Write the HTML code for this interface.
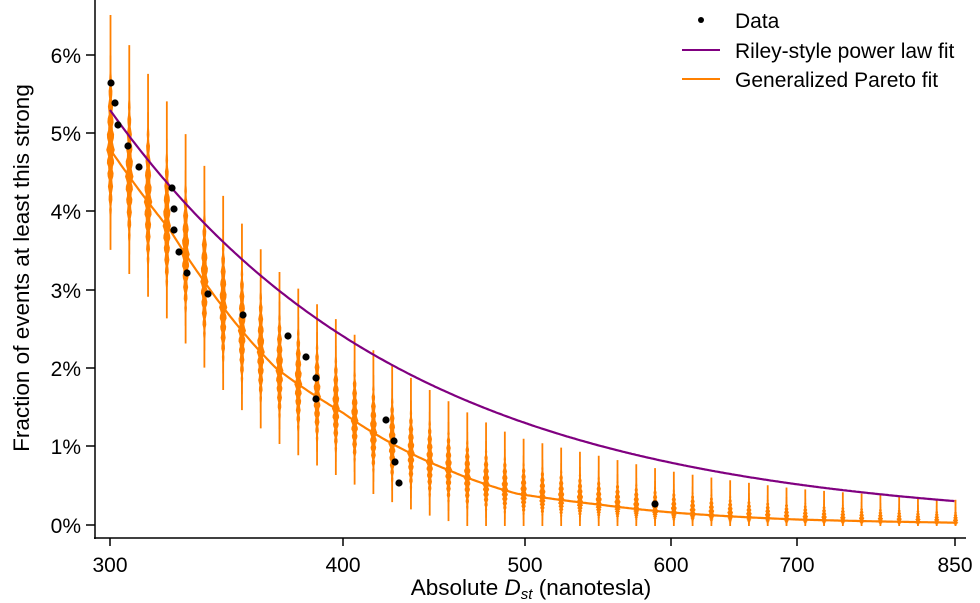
<!DOCTYPE html>
<html><head><meta charset="utf-8"><style>
body{margin:0;background:#fff}
svg{display:block;font-family:"Liberation Sans",Arial,sans-serif}
</style></head><body>
<svg id="s" width="980" height="603" viewBox="0 0 980 603" xmlns="http://www.w3.org/2000/svg">
<g id="viol" fill="#ff8000" stroke="#ff8000"></g>
<path id="gp" fill="none" stroke="#ff8000" stroke-width="2.2"/>
<path id="pl" fill="none" stroke="#800080" stroke-width="2.2"/>
<g id="pts" fill="#000"></g>
<line x1="95" y1="0" x2="95" y2="539" stroke="#000" stroke-width="1.5"/>
<line x1="94" y1="538" x2="966" y2="538" stroke="#000" stroke-width="1.5"/>
<g stroke="#000" stroke-width="1.5">
<line x1="86" x2="95" y1="55" y2="55"/><line x1="86" x2="95" y1="133" y2="133"/><line x1="86" x2="95" y1="211" y2="211"/><line x1="86" x2="95" y1="290" y2="290"/><line x1="86" x2="95" y1="368" y2="368"/><line x1="86" x2="95" y1="446" y2="446"/><line x1="86" x2="95" y1="525" y2="525"/>
<line x1="110" x2="110" y1="538" y2="546"/><line x1="343" x2="343" y1="538" y2="546"/><line x1="525" x2="525" y1="538" y2="546"/><line x1="671" x2="671" y1="538" y2="546"/><line x1="797" x2="797" y1="538" y2="546"/><line x1="955" x2="955" y1="538" y2="546"/>
</g>
<g font-size="21" text-anchor="end" fill="#000">
<text x="81" y="63">6%</text><text x="81" y="141">5%</text><text x="81" y="219">4%</text><text x="81" y="298">3%</text><text x="81" y="376">2%</text><text x="81" y="454">1%</text><text x="81" y="533">0%</text>
</g>
<g font-size="21" text-anchor="middle" fill="#000">
<text x="110" y="572">300</text><text x="343" y="572">400</text><text x="525" y="572">500</text><text x="671" y="572">600</text><text x="797" y="572">700</text><text x="955" y="572">850</text>
</g>
<g font-size="22.5" text-anchor="middle" fill="#000">
<text x="531" y="595">Absolute <tspan font-style="italic">D</tspan><tspan font-style="italic" font-size="15" dy="4">st</tspan><tspan dy="-4"> (nanotesla)</tspan></text>
<text transform="translate(29,268) rotate(-90)">Fraction of events at least this strong</text>
</g>
<circle cx="701" cy="20" r="3" fill="#000"/>
<line x1="682" x2="720" y1="50" y2="50" stroke="#800080" stroke-width="2"/>
<line x1="682" x2="720" y1="79" y2="79" stroke="#ff8000" stroke-width="2"/>
<g font-size="21" fill="#000"><text x="735" y="28">Data</text><text x="735" y="58">Riley-style power law fit</text><text x="735" y="87">Generalized Pareto fit</text></g>
</svg>
<script>
var NS="http://www.w3.org/2000/svg";
function X(d){return 110+Math.log(d/300)*810.8;}
function Y(p){return 525-p*78.3;}
function pl(d){return 5.3*Math.pow(d/300,-2.74);}
var kx=[300,323,335.6,368.3,400,455.6,495.6,549,600,700,850],ky=[4.8,3.77,3.17,2.0,1.43,0.7,0.4,0.26,0.16,0.07,0.03];
function gp(d){for(var i=0;i<kx.length-1;i++){if(d<=kx[i+1]){var t=(d-kx[i])/(kx[i+1]-kx[i]);return Math.exp(Math.log(ky[i])*(1-t)+Math.log(ky[i+1])*t);}}return ky[ky.length-1];}
var a="",b="";
for(var d=300;d<=850;d+=1){a+=(d==300?"M":"L")+X(d).toFixed(1)+","+Y(gp(d)).toFixed(1);b+=(d==300?"M":"L")+X(d).toFixed(1)+","+Y(pl(d)).toFixed(1);}
document.getElementById("gp").setAttribute("d",a);
document.getElementById("pl").setAttribute("d",b);
var vg=document.getElementById("viol");
for(var i=0;i<46;i++){
 var x=110.5+i*(845/45);var d=300*Math.exp((x-110)/810.8);var v=gp(d);var cy=Y(v);
 var f=Math.pow(v/4.8,0.35);var up=135*f;var dn=Math.min(100*f,526-cy);
 var w=4.3-1.3*i/45;var bu=up*0.7,bd=Math.max(dn*0.8,3);
 var L=[],R=[];
 for(var k=-24;k<=24;k++){var t=k/24;var yy=t<0?cy+t*bu:cy+t*bd;var ww=w*Math.pow(1-Math.abs(t),0.8)*(0.8+0.2*Math.cos(k*1.7));ww=Math.max(ww,0.8);L.push((x-ww).toFixed(1)+","+yy.toFixed(1));R.unshift((x+ww).toFixed(1)+","+yy.toFixed(1));}
 var p=document.createElementNS(NS,"polygon");p.setAttribute("points",L.concat(R).join(" "));p.setAttribute("stroke","none");vg.appendChild(p);
 var ln=document.createElementNS(NS,"line");ln.setAttribute("x1",x);ln.setAttribute("x2",x);ln.setAttribute("y1",cy-up);ln.setAttribute("y2",cy+dn);ln.setAttribute("stroke-width","1.8");vg.appendChild(ln);
}
var P=[[111,83],[115,103],[118,125],[128,146],[139,167],[172,188],[174,209],[174,230],[179,252],[187,273],[208,294],[243,315],[288,336],[306,357],[316,378],[316,399],[386,420],[394,441],[395,462],[399,483],[655,504]];
var pg=document.getElementById("pts");
P.forEach(function(q){var c=document.createElementNS(NS,"circle");c.setAttribute("cx",q[0]);c.setAttribute("cy",q[1]);c.setAttribute("r","3.6");pg.appendChild(c);});
</script>
</body></html>
